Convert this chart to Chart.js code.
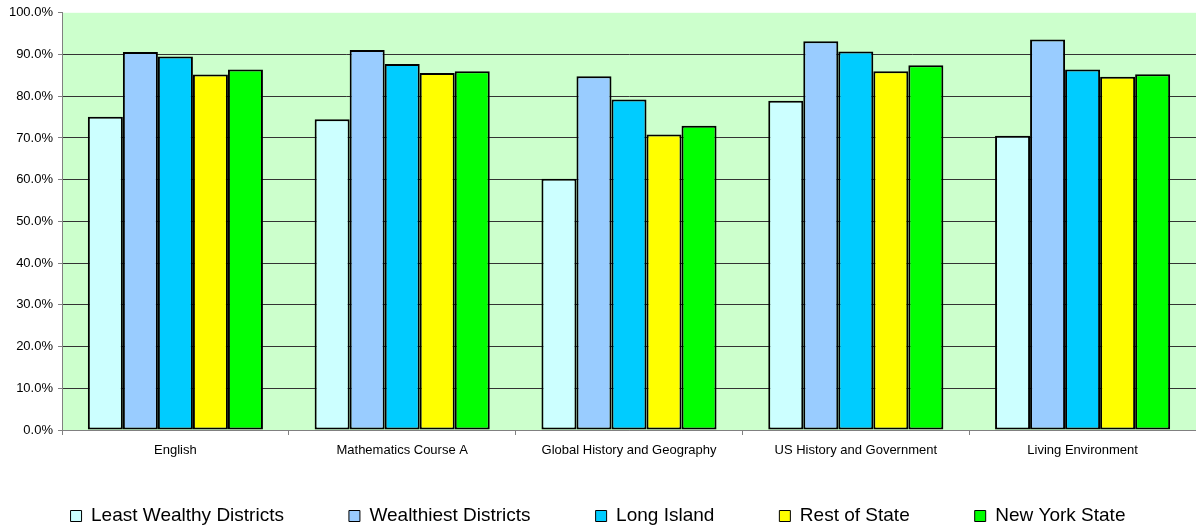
<!DOCTYPE html>
<html>
<head>
<meta charset="utf-8">
<script src="https://cdn.jsdelivr.net/npm/chart.js@4"></script>
<style>
  html, body { margin: 0; padding: 0; background: #ffffff; }
  #wrap { width: 1196px; height: 527px; }
</style>
</head>
<body>
<div id="wrap"><canvas id="chart" width="1196" height="527"></canvas></div>
<script>
// Regents exam pass rates by region (percent)
const subjects = ['English', 'Mathematics Course A', 'Global History and Geography', 'US History and Government', 'Living Environment'];
const seriesNames = ['Least Wealthy Districts', 'Wealthiest Districts', 'Long Island', 'Rest of State', 'New York State'];
const leastWealthy = [75.1, 74.5, 60.2, 78.9, 70.5];
const wealthiest   = [90.6, 91.1, 84.8, 93.2, 93.6];
const longIsland   = [89.5, 87.7, 79.2, 90.7, 86.4];
const restOfState  = [85.2, 85.6, 70.8, 86.0, 84.7];
const newYorkState = [86.4, 86.0, 72.9, 87.4, 85.3];
const yTicks = [0, 10, 20, 30, 40, 50, 60, 70, 80, 90, 100];

const seriesValues = [leastWealthy, wealthiest, longIsland, restOfState, newYorkState];
const seriesColors = ['#CCFFFF', '#99CCFF', '#00CCFF', '#FFFF00', '#00FF00'];

const FONT = "'Liberation Sans', Arial, sans-serif";
const LEGEND_PAD = 65;     // horizontal gap between legend items
const LEGEND_H = 57;       // height reserved for the legend row
const LEGEND_SHIFT = -28.5;

// pale green plot background
const plotBackground = {
  id: 'plotBackground',
  beforeDraw(chart) {
    const { ctx, chartArea: a } = chart;
    ctx.save();
    ctx.fillStyle = '#CCFFCC';
    ctx.fillRect(a.left, a.top, a.right - a.left, a.bottom - a.top);
    ctx.restore();
  }
};

// wide item spacing in the legend without a tall legend box
const legendShape = {
  id: 'legendShape',
  beforeLayout(chart) {
    const lg = chart.legend;
    if (!lg || lg._shaped) return;
    lg._shaped = true;
    const fit = lg.fit;
    lg.fit = function () { fit.call(this); this.height = LEGEND_H; };
    const draw = lg.draw;
    lg.draw = function () {
      const top = this.top;
      this.top = top + LEGEND_SHIFT;
      draw.call(this);
      this.top = top;
    };
  }
};

const datasets = seriesNames.map((name, i) => ({
  label: name,
  data: seriesValues[i],
  backgroundColor: seriesColors[i],
  borderColor: '#000000',
  borderWidth: 2,
  borderSkipped: false,
  categoryPercentage: 0.772,
  barPercentage: 1.0
}));

new Chart(document.getElementById('chart'), {
  type: 'bar',
  data: { labels: subjects, datasets },
  plugins: [plotBackground, legendShape],
  options: {
    responsive: false,
    animation: false,
    layout: { padding: { top: 12.5, left: 0, right: 0, bottom: 0 } },
    plugins: {
      tooltip: { enabled: false },
      legend: {
        position: 'bottom',
        labels: {
          color: '#000000',
          font: { family: FONT, size: 19 },
          boxWidth: 11,
          boxHeight: 11,
          padding: LEGEND_PAD,
          generateLabels(chart) {
            return Chart.defaults.plugins.legend.labels.generateLabels(chart)
              .map(l => Object.assign(l, { lineWidth: 1, strokeStyle: '#000000' }));
          }
        }
      }
    },
    scales: {
      x: {
        afterFit(scale) { scale.height = 40; },
        grid: {
          offset: true,
          drawOnChartArea: false,
          drawTicks: true,
          tickLength: 5,
          tickColor: '#808080'
        },
        border: { display: true, color: '#808080', width: 1 },
        ticks: {
          color: '#000000',
          font: { family: FONT, size: 13 },
          padding: 8,
          maxRotation: 0,
          autoSkip: false
        }
      },
      y: {
        min: 0,
        max: 100,
        afterFit(scale) { scale.width = 62; },
        afterBuildTicks(scale) { scale.ticks = yTicks.map(v => ({ value: v })); },
        grid: {
          color(ctx) {
            if (ctx.tick && ctx.tick.value === 100) return 'rgba(0,0,0,0)';
            if (ctx.tick && ctx.tick.value === 0) return '#808080';
            return '#333333';
          },
          lineWidth: 1,
          drawTicks: true,
          tickLength: 4,
          tickColor: '#808080'
        },
        border: { display: true, color: '#808080', width: 1 },
        ticks: {
          color: '#000000',
          font: { family: FONT, size: 13 },
          padding: 5,
          callback: v => Number(v).toFixed(1) + '%'
        }
      }
    }
  }
});
</script>
</body>
</html>
